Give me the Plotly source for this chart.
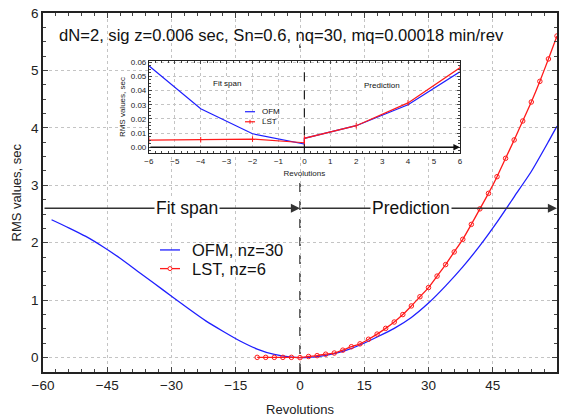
import plotly.graph_objects as go

# ---------------- data ----------------
ofm_x = [-58, -54, -50, -46, -42, -38, -34, -30, -26, -22, -18, -14, -10, -6, -2, 0,
         2, 6, 10, 14, 18, 22, 26, 30, 34, 38, 42, 46, 50, 54, 58, 60]
ofm_y = [2.40, 2.26, 2.11, 1.93, 1.73, 1.51, 1.29, 1.07, 0.85, 0.64, 0.46, 0.29, 0.15, 0.055, 0.008, 0.0,
         0.005, 0.04, 0.11, 0.22, 0.36, 0.51, 0.70, 0.95, 1.25, 1.58, 1.95, 2.36, 2.80, 3.24, 3.76, 4.03]

lst_x = [-10, -8, -6, -4, -2, 0, 2, 4, 6, 8, 10, 12, 14, 16, 18, 20, 22, 24, 26, 28, 30,
         32, 34, 36, 38, 40, 42, 44, 46, 48, 50, 52, 54, 56, 58, 60]
lst_y = [0.005, 0.005, 0.005, 0.005, 0.005, 0.0, 0.02, 0.035, 0.06, 0.08, 0.13, 0.19, 0.24, 0.32, 0.41,
         0.51, 0.62, 0.75, 0.90, 1.06, 1.22, 1.42, 1.62, 1.84, 2.06, 2.32, 2.59, 2.86, 3.15, 3.47,
         3.79, 4.12, 4.45, 4.81, 5.20, 5.60]

inset_x = [-6, -4, -2, 0, 0, 2, 4, 6]
inset_ofm = [0.0575, 0.0272, 0.0095, 0.0023, 0.0063, 0.0152, 0.0300, 0.0532]
inset_lst = [0.0051, 0.0053, 0.0058, 0.0032, 0.0063, 0.0152, 0.0313, 0.0560]

main_names = ["OFM, nz=30", "LST, nz=6"]
inset_names = ["OFM", "LST"]
title_text = "dN=2, sig z=0.006 sec, Sn=0.6, nq=30, mq=0.00018 min/rev"
FONT = "Arial, Liberation Sans, sans-serif"
BLUE = "#1f1fff"
RED = "#ff1a1a"

fig = go.Figure()

fig.add_trace(go.Scatter(x=ofm_x, y=ofm_y, mode="lines", name=main_names[0], showlegend=False,
                         line=dict(color=BLUE, width=1.3, shape="spline", smoothing=0.6)))
fig.add_trace(go.Scatter(x=lst_x, y=lst_y, mode="lines+markers", name=main_names[1], showlegend=False,
                         line=dict(color=RED, width=1.3, shape="spline", smoothing=0.5),
                         marker=dict(symbol="circle-open", size=4.5, color=RED, line=dict(width=1))))

fig.add_trace(go.Scatter(x=inset_x, y=inset_ofm, mode="lines", name=inset_names[0], showlegend=False,
                         line=dict(color=BLUE, width=1.2), xaxis="x2", yaxis="y2"))
fig.add_trace(go.Scatter(x=inset_x, y=inset_lst, mode="lines+markers", name=inset_names[1],
                         showlegend=False, line=dict(color=RED, width=1.2),
                         marker=dict(symbol="line-ns-open", size=4, color=RED, line=dict(width=1, color=RED)),
                         xaxis="x2", yaxis="y2"))

grid = dict(showgrid=True, gridcolor="#c4c4c4", griddash="dot", gridwidth=1)

fig.update_layout(
    width=563, height=417,
    margin=dict(l=43, r=6, t=13, b=45, autoexpand=False),
    paper_bgcolor="white", plot_bgcolor="white",
    font=dict(family=FONT, color="#222222", size=13),
    showlegend=False,
    xaxis=dict(range=[-60, 60], dtick=15, tick0=-60, ticks="inside", ticklen=5,
               showline=True, linecolor="#222", linewidth=1.5, mirror="allticks",
               zeroline=False, tickfont=dict(size=13.5),
               minor=dict(dtick=3, ticks="inside", ticklen=3, showgrid=False),
               title=dict(text="Revolutions", font=dict(size=13), standoff=14),
               **grid),
    yaxis=dict(range=[-0.25, 6], dtick=1, ticks="inside", ticklen=5,
               showline=True, linecolor="#222", linewidth=1.5, mirror="allticks",
               zeroline=False, tickfont=dict(size=13.5),
               minor=dict(dtick=0.25, ticks="inside", ticklen=3, showgrid=False),
               **grid),
    xaxis2=dict(domain=[0.206, 0.811], anchor="y2", range=[-6, 6], dtick=1,
                ticks="inside", ticklen=3, showline=True, linecolor="#222", linewidth=1,
                mirror="allticks", zeroline=False, tickfont=dict(size=8),
                minor=dict(dtick=0.25, ticks="inside", ticklen=2, showgrid=False),
                title=dict(text="Revolutions", font=dict(size=8), standoff=5),
                **grid),
    yaxis2=dict(domain=[0.609, 0.867], anchor="x2", range=[-0.0043, 0.061], dtick=0.01,
                tickformat=".2f", ticks="inside", ticklen=3, showline=True, linecolor="#222",
                linewidth=1, mirror="allticks", zeroline=False, tickfont=dict(size=8),
                minor=dict(dtick=0.0025, ticks="inside", ticklen=2, showgrid=False),
                title=dict(text="RMS values, sec", font=dict(size=8), standoff=3),
                **grid),
)

# y-axis title of main plot
fig.add_annotation(x=-0.0506, y=0.5, xref="paper", yref="paper", xanchor="center", yanchor="middle",
                   text="RMS values, sec", textangle=-90, showarrow=False,
                   font=dict(size=13, family=FONT, color="#222"))

# main dashed vertical line at 0
fig.add_shape(type="line", xref="x", yref="y domain", x0=0, x1=0, y0=0, y1=1,
              line=dict(color="#333", width=1.5, dash="dash"), layer="below")
# white panels masking main grid behind title and inset
fig.add_shape(type="rect", xref="x", yref="y", x0=-59.7, x1=55, y0=5.45, y1=5.98,
              fillcolor="white", line=dict(width=0), layer="below")
fig.add_shape(type="rect", xref="x", yref="y", x0=-43.9, x1=39.7, y0=3.04, y1=5.26,
              fillcolor="white", line=dict(width=0), layer="below")
# inset dashed line
fig.add_shape(type="line", xref="x2", yref="y2 domain", x0=0, x1=0, y0=0, y1=1,
              line=dict(color="#222", width=1.2, dash="dash"))

# arrows in main plot
for x0, x1 in [(-60, 0), (0, 60)]:
    fig.add_annotation(x=x1, y=2.6, ax=x0, ay=2.6, xref="x", yref="y", axref="x", ayref="y",
                       text="", showarrow=True, arrowhead=2, arrowsize=1.3, arrowwidth=1.4,
                       arrowcolor="#333", standoff=0, startstandoff=0)
fig.add_annotation(x=-26.3, y=2.6, xref="x", yref="y", text="Fit span", showarrow=False,
                   font=dict(size=17.5, family=FONT, color="#111"), bgcolor="white")
fig.add_annotation(x=26.0, y=2.6, xref="x", yref="y", text="Prediction", showarrow=False,
                   font=dict(size=17.5, family=FONT, color="#111"), bgcolor="white")

# inset arrow along zero
fig.add_annotation(x=6, y=0, ax=-6, ay=0, xref="x2", yref="y2", axref="x2", ayref="y2",
                   text="", showarrow=True, arrowhead=2, arrowsize=1, arrowwidth=1.3,
                   arrowcolor="#111", standoff=0, startstandoff=0)
fig.add_annotation(x=-3, y=0.045, xref="x2", yref="y2", text="Fit span", showarrow=False,
                   font=dict(size=8, family=FONT, color="#111"), bgcolor="white")
fig.add_annotation(x=3, y=0.0435, xref="x2", yref="y2", text="Prediction", showarrow=False,
                   font=dict(size=8, family=FONT, color="#111"), bgcolor="white")

# header text
fig.add_annotation(x=0.027, y=0.936, xref="paper", yref="paper", xanchor="left", yanchor="middle",
                   text=title_text, showarrow=False,
                   font=dict(size=16.6, family=FONT, color="#111"))

# ---- manual legends ----
def legend_entry(x0, x1, y, color, label, tx, fsize, marker=None, lw=1.3):
    fig.add_shape(type="line", xref="paper", yref="paper", x0=x0, x1=x1, y0=y, y1=y,
                  line=dict(color=color, width=lw))
    if marker == "circle":
        xm = (x0 + x1) / 2
        fig.add_shape(type="circle", xref="paper", yref="paper", xsizemode="pixel",
                      ysizemode="pixel", xanchor=xm, yanchor=y, x0=-2, x1=2, y0=-2, y1=2,
                      line=dict(color=color, width=1), fillcolor="white")
    elif marker == "tick":
        xm = (x0 + x1) / 2
        fig.add_shape(type="line", xref="paper", yref="paper", xsizemode="pixel",
                      ysizemode="pixel", xanchor=xm, yanchor=y, x0=0, x1=0, y0=-2, y1=2,
                      line=dict(color=color, width=1))
    fig.add_annotation(x=tx, y=y, xref="paper", yref="paper", xanchor="left", yanchor="middle",
                       text=label, showarrow=False,
                       font=dict(size=fsize, family=FONT, color="#111"))

legend_entry(0.2276, 0.2665, 0.3400, BLUE, main_names[0], 0.2860, 16.5)
legend_entry(0.2276, 0.2665, 0.2880, RED, main_names[1], 0.2860, 16.5, marker="circle")
legend_entry(0.393, 0.4125, 0.725, BLUE, inset_names[0], 0.4230, 8, lw=1.2)
legend_entry(0.393, 0.4125, 0.697, RED, inset_names[1], 0.4230, 8, marker="tick", lw=1.2)

fig.write_html("out.html", config={"displayModeBar": False},
               post_script="document.body.style.margin='0';")
